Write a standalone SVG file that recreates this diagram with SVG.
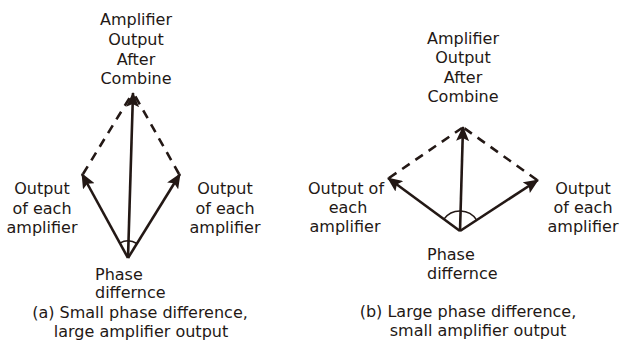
<svg xmlns="http://www.w3.org/2000/svg" width="621" height="345" viewBox="0 0 621 345">
<style>
.t{font-family:"DejaVu Sans","Noto Sans",sans-serif;font-size:16px;fill:#231815}
.c{text-anchor:middle}
.s{stroke:#231815;stroke-width:2.6;fill:none}
.d{stroke:#231815;stroke-width:2.6;fill:none;stroke-dasharray:9 7}
.a{stroke:#231815;stroke-width:1.5;fill:none}
</style>
<defs>
<marker id="ah" markerUnits="userSpaceOnUse" markerWidth="15" markerHeight="13" refX="14" refY="6.5" orient="auto">
<path d="M0,0 L15,6.5 L0,13 L3,6.5 Z" fill="#231815"/>
</marker>
</defs>
<g id="connectors">
<line class="d" x1="83" y1="174" x2="132" y2="94"/>
<line class="d" x1="179" y1="174" x2="134" y2="94"/>
<line class="s" x1="128" y1="258" x2="133" y2="93" marker-end="url(#ah)"/>
<line class="s" x1="128" y1="258" x2="82" y2="174" marker-end="url(#ah)"/>
<line class="s" x1="128" y1="258" x2="180" y2="174" marker-end="url(#ah)"/>
<path class="a" d="M119.8,243.1 A17,17 0 0 1 136.9,243.5"/>
<line class="d" x1="389" y1="178" x2="462" y2="128"/>
<line class="d" x1="537" y1="180" x2="464" y2="128"/>
<line class="s" x1="460" y1="231" x2="463" y2="127" marker-end="url(#ah)"/>
<line class="s" x1="460" y1="231" x2="388" y2="178" marker-end="url(#ah)"/>
<line class="s" x1="460" y1="231" x2="538" y2="180" marker-end="url(#ah)"/>
<path class="a" d="M443.9,219.1 A20,20 0 0 1 476.7,220.1"/>
</g>
<g id="a-combined">
<text class="t c" x="136" y="25">Amplifier</text>
<text class="t c" x="136" y="45">Output</text>
<text class="t c" x="136" y="65">After</text>
<text class="t c" x="136" y="84">Combine</text>
</g>
<g id="a-left">
<text class="t c" x="42" y="194">Output</text>
<text class="t c" x="42" y="214">of each</text>
<text class="t c" x="42" y="233">amplifier</text>
</g>
<g id="a-right">
<text class="t c" x="225" y="194">Output</text>
<text class="t c" x="225" y="214">of each</text>
<text class="t c" x="225" y="233">amplifier</text>
</g>
<g id="a-phase">
<text class="t" x="95" y="280">Phase</text>
<text class="t" x="95" y="298">differnce</text>
</g>
<g id="a-caption">
<text class="t c" x="140" y="318">(a) Small phase difference,</text>
<text class="t c" x="141" y="337">large amplifier output</text>
</g>
<g id="b-combined">
<text class="t c" x="463" y="44">Amplifier</text>
<text class="t c" x="463" y="63">Output</text>
<text class="t c" x="463" y="83">After</text>
<text class="t c" x="463" y="102">Combine</text>
</g>
<g id="b-left">
<text class="t c" x="346" y="194">Output of</text>
<text class="t c" x="348" y="213">each</text>
<text class="t c" x="345" y="232">amplifier</text>
</g>
<g id="b-right">
<text class="t c" x="583" y="194">Output</text>
<text class="t c" x="583" y="213">of each</text>
<text class="t c" x="583" y="232">amplifier</text>
</g>
<g id="b-phase">
<text class="t" x="427" y="260">Phase</text>
<text class="t" x="427" y="279">differnce</text>
</g>
<g id="b-caption">
<text class="t c" x="468" y="317">(b) Large phase difference,</text>
<text class="t c" x="478" y="336">small amplifier output</text>
</g>
</svg>
